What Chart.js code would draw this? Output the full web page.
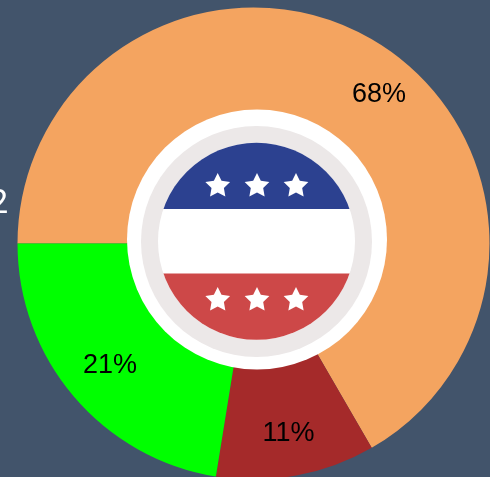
<!DOCTYPE html>
<html>
<head>
<meta charset="utf-8">
<script src="https://cdn.jsdelivr.net/npm/chart.js@4"></script>
<style>
    html, body { margin: 0; width: 490px; height: 477px; overflow: hidden; background: #42546b; }
    #chart { position: absolute; left: 0; top: 0; }
    #side { position: absolute; left: -11px; top: 179px; color: #fff; font: 400 34px Roboto, sans-serif; line-height: 44px; }
</style>
</head>
<body>
<canvas id="chart" width="507" height="487"></canvas>
<div id="side">2</div>
<script>
    const categories = ['A', 'B', 'C']
    const sliceValues = [66.65, 10.9, 22.45]
    const percentLabels = ['68%', '11%', '21%']
    const sliceColors = ['#f4a460', '#a52a2a', '#00ff00']

    // text is not always in the middle of its slice in the original
    const labelTurn = [0.178, 0, 0]
    const labelRadius = [194.4, 193.5, 188.6]

    function star(ctx, x, y, r) {
        ctx.beginPath()
        for (let i = 0; i < 10; i++) {
            const a = -Math.PI / 2 + i * Math.PI / 5
            const d = i % 2 ? r * 0.5 : r
            ctx.lineTo(x + Math.cos(a) * d, y + Math.sin(a) * d)
        }
        ctx.closePath()
        ctx.fill()
    }

    function disc(ctx, x, y, r, color) {
        ctx.fillStyle = color
        ctx.beginPath()
        ctx.arc(x, y, r, 0, Math.PI * 2)
        ctx.fill()
    }

    const badge = {
        id: 'badge',
        afterDatasetsDraw(chart) {
            const ctx = chart.ctx
            ctx.save()
            disc(ctx, 257, 239.5, 130, '#ffffff')
            disc(ctx, 256.5, 241.5, 115.5, '#ece8e8')
            disc(ctx, 256.5, 241.3, 98.5, '#ffffff')

            ctx.save()
            ctx.beginPath()
            ctx.arc(256.5, 241.3, 98.5, 0, Math.PI * 2)
            ctx.clip()
            ctx.fillStyle = '#2c4190'
            ctx.fillRect(150, 140, 214, 69)
            ctx.fillStyle = '#cd4848'
            ctx.fillRect(150, 273.5, 214, 70)
            ctx.restore()

            ctx.fillStyle = '#ffffff'
            ;[217.7, 257, 296].forEach(x => {
                star(ctx, x, 186, 13)
                star(ctx, x, 300, 13)
            })
            ctx.restore()
        }
    }

    const sliceText = {
        id: 'sliceText',
        afterDraw(chart) {
            const ctx = chart.ctx
            const arcs = chart.getDatasetMeta(0).data
            ctx.save()
            ctx.fillStyle = '#000'
            ctx.font = '27px "Liberation Sans", Arial, sans-serif'
            ctx.textAlign = 'center'
            ctx.textBaseline = 'middle'
            arcs.forEach((arc, i) => {
                const a = (arc.startAngle + arc.endAngle) / 2 + labelTurn[i]
                ctx.fillText(percentLabels[i], arc.x + Math.cos(a) * labelRadius[i], arc.y + Math.sin(a) * labelRadius[i])
            })
            ctx.restore()
        }
    }

    new Chart(document.getElementById('chart'), {
        type: 'doughnut',
        data: {
            labels: categories,
            datasets: [{
                data: sliceValues,
                backgroundColor: sliceColors,
                borderWidth: 0
            }]
        },
        options: {
            responsive: false,
            animation: false,
            rotation: 270,
            cutout: '50%',
            layout: { padding: 7.5 },
            plugins: {
                legend: { display: false },
                tooltip: { enabled: false }
            }
        },
        plugins: [badge, sliceText]
    })
</script>
</body>
</html>
